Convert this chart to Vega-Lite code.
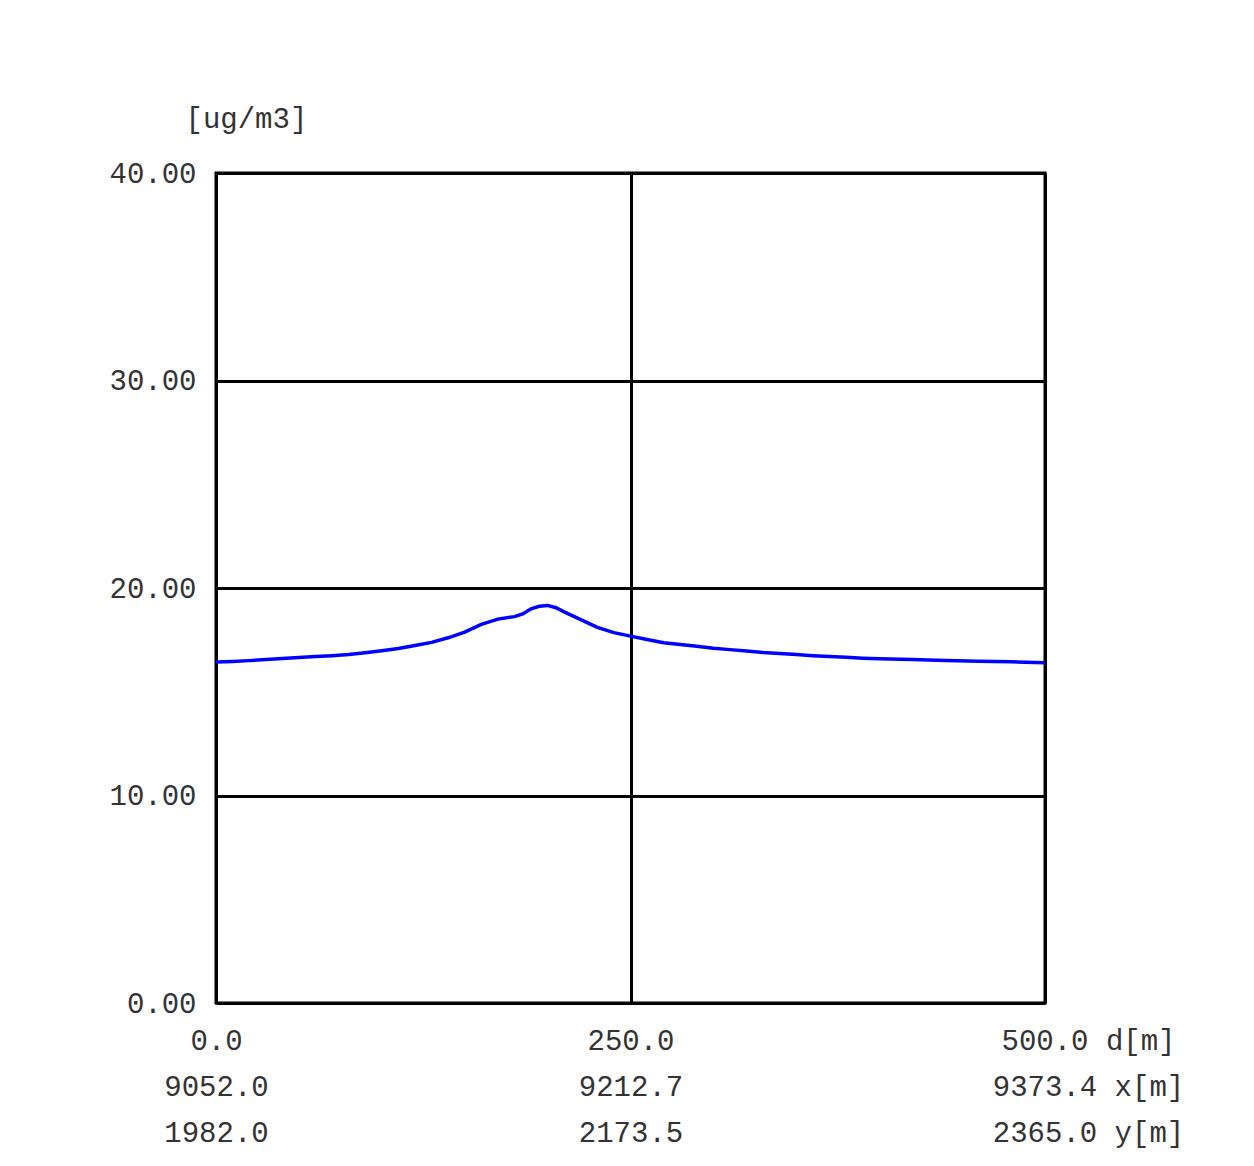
{
  "$schema": "https://vega.github.io/schema/vega-lite/v6.json",
  "autosize": {"type": "none"},
  "width": 829,
  "height": 830,
  "padding": {"left": 216, "top": 173, "right": 209, "bottom": 163},
  "background": "white",
  "config": {
    "view": {"stroke": "black", "strokeWidth": 3},
    "font": "Liberation Mono"
  },
  "data": {
    "values": [
      {"d": 0, "c": 16.43}, {"d": 10, "c": 16.46}, {"d": 20, "c": 16.5}, {"d": 30, "c": 16.55},
      {"d": 40, "c": 16.6}, {"d": 50, "c": 16.65}, {"d": 60, "c": 16.7}, {"d": 70, "c": 16.74},
      {"d": 80, "c": 16.79}, {"d": 90, "c": 16.88}, {"d": 100, "c": 16.98}, {"d": 110, "c": 17.08},
      {"d": 120, "c": 17.23}, {"d": 130, "c": 17.38}, {"d": 140, "c": 17.6}, {"d": 150, "c": 17.87},
      {"d": 160, "c": 18.25}, {"d": 170, "c": 18.5}, {"d": 180, "c": 18.62}, {"d": 185, "c": 18.75},
      {"d": 190, "c": 19.0}, {"d": 195, "c": 19.12}, {"d": 200, "c": 19.16}, {"d": 205, "c": 19.05},
      {"d": 210, "c": 18.85}, {"d": 220, "c": 18.48}, {"d": 230, "c": 18.1}, {"d": 240, "c": 17.85},
      {"d": 250, "c": 17.68}, {"d": 260, "c": 17.52}, {"d": 270, "c": 17.36}, {"d": 280, "c": 17.28},
      {"d": 290, "c": 17.19}, {"d": 300, "c": 17.1}, {"d": 310, "c": 17.03}, {"d": 320, "c": 16.96},
      {"d": 330, "c": 16.89}, {"d": 340, "c": 16.84}, {"d": 350, "c": 16.79}, {"d": 360, "c": 16.74},
      {"d": 370, "c": 16.7}, {"d": 380, "c": 16.66}, {"d": 390, "c": 16.62}, {"d": 400, "c": 16.59},
      {"d": 420, "c": 16.55}, {"d": 440, "c": 16.51}, {"d": 460, "c": 16.47}, {"d": 480, "c": 16.44},
      {"d": 500, "c": 16.4}
    ]
  },
  "mark": {"type": "line", "color": "#0000ff", "strokeWidth": 3.5, "clip": true},
  "encoding": {
    "x": {
      "field": "d",
      "type": "quantitative",
      "scale": {"domain": [0, 500], "nice": false, "zero": false},
      "axis": {
        "values": [0, 250, 500],
        "title": null,
        "domain": false,
        "ticks": false,
        "grid": true,
        "gridColor": "black",
        "gridWidth": 3,
        "gridOpacity": 1,
        "labelOverlap": false,
        "labelFlush": false,
        "labelBound": false,
        "labelLimit": 0,
        "labelFont": "Liberation Mono",
        "labelFontSize": 29,
        "labelColor": "#333333",
        "labelPadding": 37,
        "labelLineHeight": 46,
        "labelBaseline": "middle",
        "labelOffset": {"condition": {"test": "datum.value == 500", "value": 43}, "value": 0},
        "labelExpr": "datum.value == 0 ? ['0.0', '9052.0', '1982.0'] : datum.value == 250 ? ['250.0', '9212.7', '2173.5'] : ['500.0 d[m]', '9373.4 x[m]', '2365.0 y[m]']"
      }
    },
    "y": {
      "field": "c",
      "type": "quantitative",
      "scale": {"domain": [0, 40], "nice": false, "zero": false},
      "axis": {
        "values": [0, 10, 20, 30, 40],
        "format": ".2f",
        "title": "[ug/m3]",
        "titleAngle": 0,
        "titleAlign": "left",
        "titleBaseline": "middle",
        "titleX": -31,
        "titleY": -55,
        "titleFont": "Liberation Mono",
        "titleFontSize": 29,
        "titleFontWeight": "normal",
        "titleColor": "#333333",
        "domain": false,
        "ticks": false,
        "grid": true,
        "gridColor": "black",
        "gridWidth": 3,
        "gridOpacity": 1,
        "labelFont": "Liberation Mono",
        "labelFontSize": 29,
        "labelColor": "#333333",
        "labelPadding": 20,
        "labelOffset": 0
      }
    }
  }
}
